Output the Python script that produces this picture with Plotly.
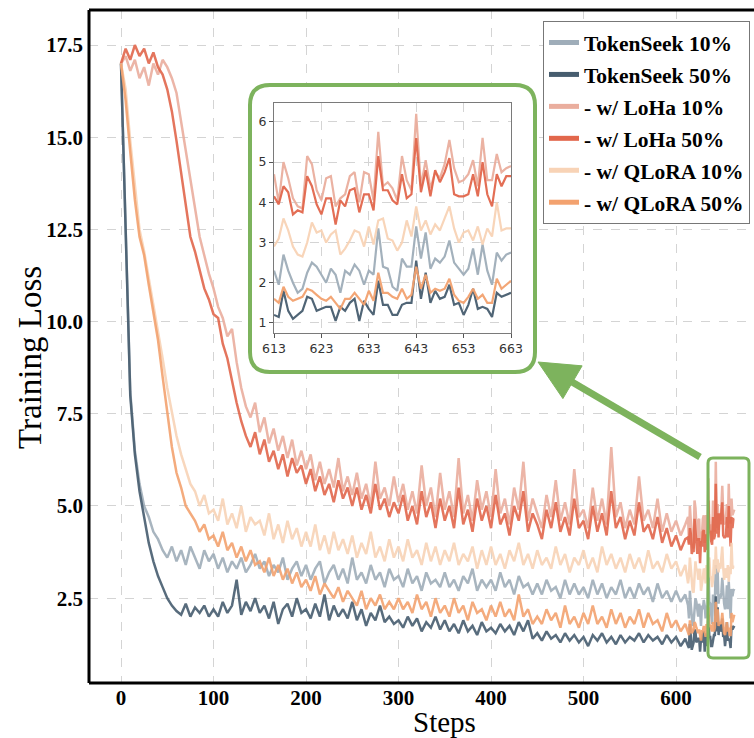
import plotly.graph_objects as go

# ---------------- data ----------------
SERIES_NAMES = ["TokenSeek 10%", "TokenSeek 50%", "- w/ LoHa 10%", "- w/ LoHa 50%",
                "- w/ QLoRA 10%", "- w/ QLoRA 50%"]

STEPS_COARSE = list(range(0, 615, 5))      # 0,5,...,610
STEPS_ZOOM = list(range(613, 664))         # 613..663

ts10_coarse = [
    17.0, 12.5, 8.1, 6.5, 5.6, 5.0, 4.7, 4.3, 4.1, 3.8,
    3.6, 3.9, 3.5, 3.8, 3.4, 3.9, 3.6, 3.3, 3.8, 3.5,
    3.7, 3.3, 3.6, 3.2, 3.5, 3.3, 3.6, 3.2, 3.4, 3.7,
    3.3, 3.5, 3.1, 3.4, 3.2, 3.6, 3.0, 3.3, 3.5, 3.1,
    3.4, 3.0, 3.3, 3.5, 2.9, 3.2, 3.4, 3.0, 3.3, 2.9,
    3.6, 3.0, 3.2, 2.9, 3.4, 3.0, 3.2, 2.8, 3.3, 3.0,
    3.1, 2.8, 3.3, 2.9, 3.1, 2.7, 3.2, 2.9, 3.0, 2.8,
    3.2, 2.8, 3.0, 2.7, 3.1, 2.9, 3.3, 2.7, 3.0, 2.8,
    3.0, 2.7, 3.2, 2.8, 3.0, 2.6, 3.1, 2.8, 2.9, 2.6,
    2.9, 2.6, 3.0, 2.7, 2.8, 2.5, 3.0, 2.6, 2.9, 2.6,
    2.8, 2.5, 3.0, 2.6, 2.9, 2.5, 2.8, 2.6, 3.0, 2.5,
    2.8, 2.5, 2.9, 2.6, 2.8, 2.4, 2.9, 2.5, 2.7, 2.4,
    2.7, 2.4, 2.6,
]
ts50_coarse = [
    17.0, 12.4, 8.0, 6.4, 5.4, 4.7, 4.0, 3.5, 3.1, 2.8,
    2.5, 2.3, 2.15, 2.05, 2.35, 2.0, 2.25, 2.1, 2.3, 2.0,
    2.2, 2.0, 2.4, 2.1, 2.3, 3.0, 2.05, 2.4, 2.15, 2.5,
    2.1, 2.3, 1.95, 2.4, 1.8, 2.2, 2.35, 2.0, 2.5, 2.1,
    2.2, 1.95, 2.35, 2.0, 2.6, 1.9, 2.3, 2.0, 2.2, 1.95,
    2.4, 1.9, 2.2, 1.75, 2.1, 1.9, 2.3, 1.85, 2.0, 1.8,
    1.9, 1.7, 2.0, 1.75, 1.95, 1.6, 1.85, 1.7, 2.0, 1.65,
    1.9, 1.6, 1.8, 1.55, 1.9, 1.6, 1.75, 1.5, 1.85, 1.6,
    1.7, 1.55, 1.8, 1.6, 1.75, 1.5, 1.85, 1.6, 1.9, 1.4,
    1.55, 1.35, 1.6, 1.4, 1.5, 1.3, 1.55, 1.35, 1.5, 1.3,
    1.45, 1.2, 1.5, 1.35, 1.55, 1.3, 1.45, 1.25, 1.5, 1.3,
    1.45, 1.35, 1.55, 1.3, 1.5, 1.35, 1.45, 1.25, 1.5, 1.3,
    1.45, 1.2, 1.4,
]
loha10_coarse = [
    17.0, 17.2, 16.8, 17.1, 16.6, 16.9, 16.4, 17.0, 16.7, 17.1,
    16.9, 16.6, 16.2, 15.4, 14.6, 13.8, 13.0, 12.3, 11.8, 11.3,
    10.9, 10.4, 10.1, 9.6, 9.8, 8.9, 8.2, 7.7, 7.4, 7.8,
    7.0, 7.4, 6.7, 7.1, 6.5, 6.9, 6.3, 6.8, 6.1, 6.5,
    6.0, 6.4, 5.7, 6.2, 5.6, 6.0, 5.5, 6.3, 5.4, 5.8,
    5.3, 5.9, 5.2, 5.6, 5.0, 6.2, 5.2, 5.5, 5.0, 5.8,
    5.1, 5.6, 4.9, 5.4, 4.8, 6.1, 5.0, 5.5, 4.7, 5.9,
    4.9, 5.4, 4.7, 6.3, 4.8, 5.3, 4.6, 5.7, 4.9, 5.4,
    4.7, 6.0, 4.8, 5.2, 4.5, 5.5, 4.9, 6.2, 4.6, 5.2,
    4.8, 4.4, 5.3, 4.7, 5.7, 4.6, 5.1, 4.5, 6.0, 4.7,
    4.9, 4.4, 5.5, 4.6, 5.2, 4.5, 6.6, 4.7, 5.1, 4.4,
    4.9, 4.5, 5.8, 4.6, 4.9, 4.4, 5.2, 4.3, 4.8, 4.3,
    4.6, 4.2, 4.5,
]
loha50_coarse = [
    17.0, 17.4, 17.1, 17.5, 17.2, 17.4, 17.0, 17.3, 16.9, 16.7,
    16.3, 15.7, 14.9, 14.0, 13.1, 12.3, 11.9, 11.4, 10.9, 10.6,
    10.2, 10.1, 9.4, 9.0, 8.4, 7.8, 7.3, 6.9, 6.6, 7.0,
    6.4, 6.8, 6.2, 6.5, 6.0, 6.4, 5.8, 6.3, 5.9, 6.1,
    5.6, 6.0, 5.4, 5.8, 5.3, 5.6, 5.1, 5.7, 5.2, 5.5,
    5.0, 5.5, 4.9, 5.3, 4.8, 5.6, 4.9, 5.2, 4.7, 5.1,
    4.8, 5.3, 4.6, 5.0, 4.5, 5.4, 4.7, 5.1, 4.4, 5.2,
    4.6, 5.0, 4.4, 5.5, 4.5, 4.9, 4.3, 5.2, 4.6, 5.0,
    4.4, 5.3, 4.5, 4.8, 4.2, 5.0, 4.6, 5.4, 4.3, 4.8,
    4.5, 4.1, 4.9, 4.4, 5.1, 4.3, 4.7, 4.2, 5.2, 4.4,
    4.6, 4.1, 5.0, 4.3, 4.8, 4.2, 5.4, 4.4, 4.7, 4.1,
    4.6, 4.2, 5.1, 4.3, 4.5, 4.1, 4.7, 4.0, 4.4, 3.9,
    4.2, 3.8, 4.1,
]
qlora10_coarse = [
    17.0, 16.3, 14.9, 13.6, 12.5, 11.9, 11.2, 10.5, 9.8, 9.0,
    8.2, 7.5, 6.9, 6.4, 6.0, 5.6, 5.4, 5.0, 5.3, 4.8,
    4.9, 4.6, 5.2, 4.5, 4.8, 4.4, 5.0, 4.3, 4.7, 4.5,
    4.6, 4.2, 4.8, 4.1, 4.5, 4.0, 4.6, 4.1, 4.4, 3.9,
    4.3, 3.9, 4.5, 3.8, 4.2, 3.7, 4.3, 3.8, 4.1, 3.7,
    4.2, 3.6, 4.0, 3.7, 4.3, 3.6, 3.9, 3.5, 4.1, 3.6,
    3.9, 3.5, 4.1, 3.6, 3.8, 3.4, 4.0, 3.5, 3.9, 3.4,
    3.8, 3.5, 4.0, 3.4, 3.7, 3.5, 3.9, 3.3, 3.8, 3.4,
    3.9, 3.4, 3.7, 3.3, 3.8, 3.5, 4.0, 3.4, 3.7, 3.3,
    3.8, 3.4, 3.6, 3.3, 3.9, 3.4, 3.7, 3.2, 3.6, 3.4,
    3.8, 3.3, 3.6, 3.2, 3.9, 3.4, 3.7, 3.3, 3.6, 3.2,
    3.7, 3.3, 3.6, 3.2, 3.8, 3.3, 3.5, 3.2, 3.7, 3.3,
    3.5, 3.1, 3.4,
]
qlora50_coarse = [
    17.0, 16.0, 14.6, 13.3, 12.3, 11.8, 11.0, 10.2, 9.5, 8.5,
    7.5, 6.6, 5.9, 5.5, 5.0, 4.8, 4.6, 4.3, 4.5, 4.1,
    4.2, 3.9, 4.3, 3.8, 4.0, 3.6, 3.9, 3.5, 3.8, 3.4,
    3.5, 3.2, 3.6, 3.1, 3.4, 3.0, 3.3, 2.9, 3.2, 2.8,
    3.0, 2.7, 3.1, 2.6, 2.9, 2.7, 2.5, 2.8, 2.4, 2.7,
    2.5, 2.3, 2.7, 2.2, 2.5, 2.3, 2.6, 2.2, 2.4, 2.2,
    2.5, 2.2, 2.4, 2.1, 2.6, 2.2, 2.4, 2.0, 2.5, 2.1,
    2.3, 2.0, 2.5, 2.1, 2.3, 1.9, 2.4, 2.1, 2.2, 1.9,
    2.3, 2.0, 2.4, 2.0, 2.2, 1.9, 2.6, 2.0, 2.2, 1.8,
    2.0, 1.8, 2.2, 1.9, 2.1, 1.7, 2.3, 1.8, 2.0, 1.7,
    2.1, 1.8, 2.3, 1.8, 2.0, 1.7, 2.2, 1.8, 2.1, 1.7,
    2.0, 1.8, 2.2, 1.7, 2.1, 1.8, 1.9, 1.6, 2.1, 1.7,
    1.9, 1.6, 1.8,
]

# steps 613..663 (zoomed window)
ts10_zoom = [
    2.3, 1.95, 2.7, 2.3, 2.0, 1.75, 1.85, 2.25, 2.5, 2.4,
    2.2, 2.0, 2.35, 2.2, 1.75, 2.3, 2.2, 2.45, 2.3, 1.95,
    2.3, 2.2, 3.35, 2.4, 2.35, 1.9, 1.8, 2.6, 2.4, 2.4,
    3.4, 2.6, 3.25, 2.35, 2.6, 2.5, 2.65, 3.05, 2.5, 2.35,
    2.2, 2.35, 2.85, 2.2, 2.95, 2.3, 1.95, 2.75, 2.55, 2.7,
    2.75,
]
ts50_zoom = [
    1.2, 1.15, 1.8, 1.3, 1.1, 1.2, 1.3, 1.65, 1.6, 1.3,
    1.35, 1.4, 1.4, 1.05, 1.4, 1.3, 1.5, 1.6, 1.05, 1.55,
    1.35, 1.2, 2.05, 1.45, 1.45, 1.2, 1.2, 1.45, 1.5, 1.5,
    2.55, 1.6, 2.25, 1.5, 1.8, 1.6, 1.65, 1.95, 1.45, 1.5,
    1.2, 1.45, 1.85, 1.35, 1.4, 1.35, 1.15, 1.75, 1.65, 1.7,
    1.75,
]
loha10_zoom = [
    4.7, 4.0, 5.0, 4.6, 4.1, 3.9, 3.85, 5.15, 4.95, 4.3,
    4.05, 4.6, 4.65, 3.9, 4.1, 4.2, 4.65, 4.75, 4.0, 4.75,
    4.7, 4.05, 5.75, 4.4, 4.5, 4.35, 4.05, 5.15, 4.55, 4.3,
    6.2, 4.4, 5.05, 4.35, 4.75, 4.6, 4.95, 5.55, 4.85, 4.5,
    4.55, 4.7, 5.05, 4.4, 5.6, 4.55, 4.55, 5.2, 4.75, 4.85,
    4.9,
]
loha50_zoom = [
    4.15, 3.95, 4.4, 4.25, 3.7, 3.8, 3.75, 4.65, 4.4, 3.95,
    3.7, 4.1, 4.1, 3.45, 4.05, 3.9, 4.3, 4.35, 3.75, 4.2,
    4.2, 3.8, 5.15, 4.3, 4.3, 4.05, 3.95, 4.7, 4.1, 4.2,
    5.6, 4.25, 4.8, 4.15, 4.8, 4.5, 4.75, 5.1, 4.2, 4.15,
    4.15, 4.2, 4.7, 4.15, 5.0, 4.2, 3.9, 4.7, 4.4, 4.65,
    4.65,
]
qlora10_zoom = [
    2.9, 3.1, 3.6, 3.3, 2.9, 2.7, 2.65, 3.0, 3.5, 3.25,
    3.3, 3.0, 3.2, 3.3, 2.7, 2.85, 3.05, 3.3, 3.25, 2.9,
    3.4, 2.95, 3.55, 3.6, 3.1, 3.05, 2.8, 3.0, 3.55, 3.15,
    3.9, 3.3, 3.55, 3.2, 3.45, 3.3, 3.6, 3.9, 3.35, 3.0,
    3.25, 3.3, 3.05, 3.4, 2.95, 3.35, 3.15, 4.0, 3.3, 3.35,
    3.35,
]
qlora50_zoom = [
    1.6, 1.5, 1.9, 1.65, 1.55, 1.6, 1.65, 1.85, 1.8, 1.7,
    1.6, 1.55, 1.65, 1.5, 1.35, 1.6, 1.6, 1.75, 1.6, 1.45,
    1.8, 1.55, 2.25, 1.75, 1.75, 1.65, 1.6, 1.85, 1.6, 1.7,
    2.4, 1.85, 2.2, 1.75, 1.85, 1.8, 1.85, 2.1, 1.7, 1.55,
    1.5, 1.65, 1.85, 1.6, 1.7, 1.5, 1.5, 2.1, 1.85, 1.95,
    2.05,
]

MAIN_XTICKS = [0, 100, 200, 300, 400, 500, 600]
MAIN_YTICKS = [2.5, 5.0, 7.5, 10.0, 12.5, 15.0, 17.5]
MAIN_YTICK_TEXT = ["2.5", "5.0", "7.5", "10.0", "12.5", "15.0", "17.5"]
ZOOM_XTICKS = [613, 623, 633, 643, 653, 663]
ZOOM_YTICKS = [1, 2, 3, 4, 5, 6]

COARSE = [ts10_coarse, ts50_coarse, loha10_coarse, loha50_coarse, qlora10_coarse, qlora50_coarse]
ZOOM = [ts10_zoom, ts50_zoom, loha10_zoom, loha50_zoom, qlora10_zoom, qlora50_zoom]
COLORS = ["#9fadb9", "#475d6f", "#eaae9e", "#e2674c", "#f8d3b6", "#f3a26f"]

# ---------------- geometry helpers (pixels -> paper) ----------------
W, H = 754, 738
ML, MR, MT, MB = 89, 0, 10, 55
PW, PH = W - ML - MR, H - MT - MB


def px(x):
    return (x - ML) / PW


def py(y):
    return (MT + PH - y) / PH


def rounded_rect(x0, y0, x1, y1, r):
    rx, ry = r / PW, r / PH
    X0, X1 = px(x0), px(x1)
    Y0, Y1 = py(y0), py(y1)
    return (f"M {X0+rx},{Y0} L {X1-rx},{Y0} Q {X1},{Y0} {X1},{Y0-ry} "
            f"L {X1},{Y1+ry} Q {X1},{Y1} {X1-rx},{Y1} "
            f"L {X0+rx},{Y1} Q {X0},{Y1} {X0},{Y1+ry} "
            f"L {X0},{Y0-ry} Q {X0},{Y0} {X0+rx},{Y0} Z")


fig = go.Figure()

for name, coarse, zoom, col in zip(SERIES_NAMES, COARSE, ZOOM, COLORS):
    xs = STEPS_COARSE[:len(coarse)] + STEPS_ZOOM
    ys = coarse + zoom
    fig.add_trace(go.Scatter(x=xs, y=ys, mode="lines", name=name,
                             line=dict(color=col, width=2.5), opacity=0.9,
                             showlegend=False, hoverinfo="skip"))

for i, (name, col) in enumerate(zip(SERIES_NAMES, COLORS)):
    fig.add_trace(go.Scatter(x=[None], y=[None], mode="lines", name=name,
                             line=dict(color=col, width=5), legendgroup=f"g{i}",
                             showlegend=True))

fig.add_trace(go.Scatter(x=[None], y=[None], xaxis="x2", yaxis="y2",
                         showlegend=False, hoverinfo="skip"))

for name, zoom, col in zip(SERIES_NAMES, ZOOM, COLORS):
    fig.add_trace(go.Scatter(x=STEPS_ZOOM, y=zoom, mode="lines", xaxis="x3", yaxis="y3",
                             line=dict(color=col, width=2.2), opacity=0.95,
                             showlegend=False, hoverinfo="skip"))

serif = "Liberation Serif, Times New Roman, serif"
GREEN = "#7db35d"

tail = (700, 457)
tip = (538, 362)
hl, hw = 40, 19
dx, dy = tip[0] - tail[0], tip[1] - tail[1]
ln = (dx * dx + dy * dy) ** 0.5
ux, uy = dx / ln, dy / ln
bx, by = tip[0] - hl * ux, tip[1] - hl * uy
nx, ny = -uy, ux
p1 = (bx + hw * nx, by + hw * ny)
p2 = (bx - hw * nx, by - hw * ny)

shapes = [
    dict(type="line", xref="paper", yref="paper", x0=0, x1=0, y0=0, y1=1,
         line=dict(color="black", width=3), layer="above"),
    dict(type="line", xref="paper", yref="paper", x0=0, x1=1.01, y0=1, y1=1,
         line=dict(color="black", width=3), layer="above"),
    dict(type="line", xref="paper", yref="paper", x0=0, x1=1.01, y0=0, y1=0,
         line=dict(color="black", width=3), layer="above"),
    dict(type="path", xref="paper", yref="paper", path=rounded_rect(250, 85, 535, 372, 20),
         line=dict(color=GREEN, width=4), fillcolor="rgba(0,0,0,0)", layer="above"),
    dict(type="path", xref="paper", yref="paper", path=rounded_rect(708, 458, 749, 658, 5),
         line=dict(color=GREEN, width=3), fillcolor="rgba(0,0,0,0)", layer="above"),
    dict(type="line", xref="paper", yref="paper", x0=px(tail[0]), y0=py(tail[1]),
         x1=px(bx + 4 * ux), y1=py(by + 4 * uy), line=dict(color=GREEN, width=7), layer="above"),
    dict(type="path", xref="paper", yref="paper",
         path=f"M {px(tip[0])},{py(tip[1])} L {px(p1[0])},{py(p1[1])} L {px(p2[0])},{py(p2[1])} Z",
         line=dict(color=GREEN, width=1), fillcolor=GREEN, layer="above"),
]

grid = dict(showgrid=True, gridcolor="#d4d4d4", griddash="dash", gridwidth=1, zeroline=False)

fig.update_layout(
    template="none",
    width=W, height=H,
    margin=dict(l=ML, r=MR, t=MT, b=MB, pad=0),
    paper_bgcolor="white", plot_bgcolor="white",
    showlegend=True,
    legend=dict(x=px(543), y=py(21), xanchor="left", yanchor="top",
                bgcolor="white", bordercolor="#777777", borderwidth=1,
                font=dict(family=serif, size=21.5, color="black", weight="bold"),
                tracegroupgap=1, itemwidth=30),
    xaxis=dict(domain=[0, 1], range=[-34.6, 684.3], tickvals=MAIN_XTICKS,
               anchor="free", position=0, showline=False,
               ticks="", ticklen=0, automargin=False,
               tickfont=dict(family=serif, size=21, color="black", weight="bold"), **grid),
    yaxis=dict(domain=[0, 1], range=[0.2, 18.45], tickvals=MAIN_YTICKS, ticktext=MAIN_YTICK_TEXT,
               showline=False, ticks="", ticklen=0, automargin=False,
               ticklabelstandoff=5,
               tickfont=dict(family=serif, size=21, color="black", weight="bold"), **grid),
    xaxis2=dict(domain=[px(250), px(535)], anchor="y2", visible=False, range=[0, 1]),
    yaxis2=dict(domain=[py(372), py(85)], anchor="x2", visible=False, range=[0, 1]),
    xaxis3=dict(domain=[px(274), px(511)], anchor="y3", range=[613, 663], tickvals=ZOOM_XTICKS,
                showline=True, linecolor="#7a7a7a", linewidth=1, mirror=True,
                ticks="outside", ticklen=4, tickcolor="#555555", automargin=False,
                tickfont=dict(family="DejaVu Sans", size=12.5, color="#333333"), **grid),
    yaxis3=dict(domain=[py(333), py(103)], anchor="x3", range=[0.75, 6.47], tickvals=ZOOM_YTICKS,
                showline=True, linecolor="#7a7a7a", linewidth=1, mirror=True,
                ticks="outside", ticklen=4, tickcolor="#555555", automargin=False,
                tickfont=dict(family="DejaVu Sans", size=12.5, color="#333333"), **grid),
    shapes=shapes,
    annotations=[
        dict(text="Steps", xref="paper", yref="paper", x=px(444), y=py(740),
             xanchor="center", yanchor="bottom", showarrow=False,
             font=dict(family=serif, size=29, color="black")),
        dict(text="Training Loss", xref="paper", yref="paper", x=px(30), y=py(357),
             xanchor="center", yanchor="middle", showarrow=False, textangle=-90,
             font=dict(family=serif, size=33, color="black")),
    ],
)

fig.write_html("out.html", config={"displayModeBar": False},
               post_script="document.body.style.margin='0px';document.body.style.overflow='hidden';")
